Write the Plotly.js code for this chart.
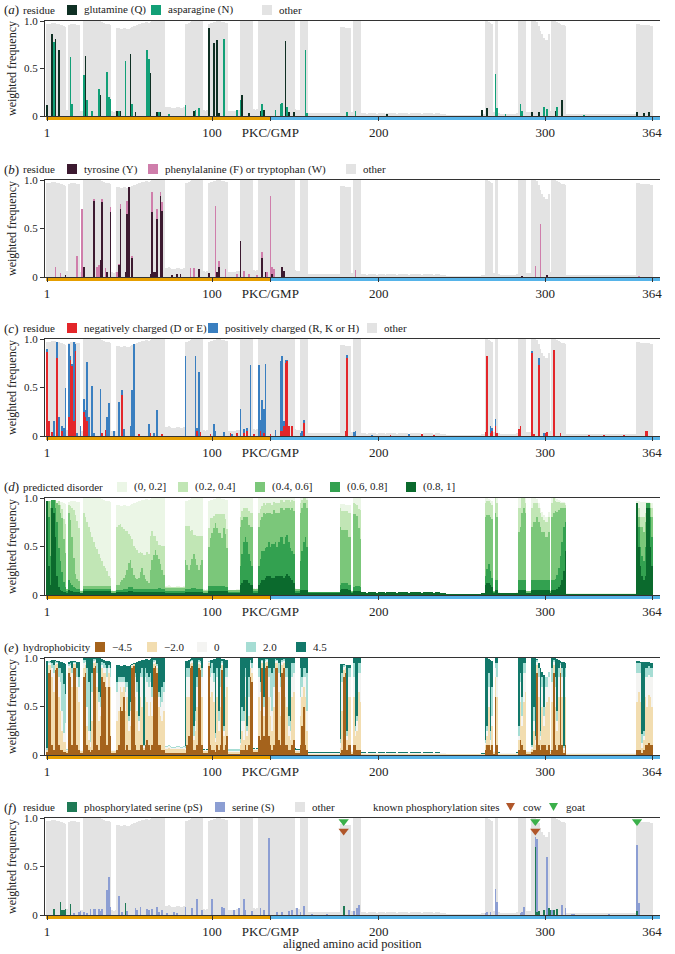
<!DOCTYPE html>
<html><head><meta charset="utf-8">
<script src="https://cdn.plot.ly/plotly-3.0.1.min.js"></script>
<style>html,body{margin:0;padding:0;background:#fff}#chart{width:675px;height:954px}</style>
</head><body><div id="chart"></div>
<script>
// ---------- DATA (aligned positions 1..364) ----------
const tickVals = [1, 100, 135, 200, 300, 364];
const tickText = ['1', '100', 'PKC/GMP', '200', '300', '364'];
const pkcGmpBoundary = 135;

// total weighted frequency (non-gap) per aligned position
const coverage = [
 .97,.97,.97,.98,.98,.98,.97,.97,.96,.96, .95,.94,.06,.96,.97,.97,.97,.97,.96,.96,
 .05,.05,1,1,1,1,1,1,1,1, 1,1,1,.99,.98,.97,.97,.97,.96,.05,
 .04,.05,.93,.93,.92,.92,.93,.93,.92,.92, .93,.94,.95,.95,.96,.97,.97,.98,.98,.99,
 .99,.98,.99,1,1,1,1,1,1,1, 1,.09,.09,.1,.09,.08,.08,.08,.09,.09,
 .08,.08,.09,.97,.97,.98,.99,1,1,1, 1,1,1,1,.06,.05,.06,.97,.98,.98,
 .99,.99,1,1,1,.99,.99,.98,.98,.05, .05,.05,.05,.05,.06,.06,1,1,1,1,
 1,1,1,1,.07,.06,.07,1,1,1, 1,1,1,1,1,1,1,1,1,1,
 1,1,1,1,1,1,1,1,1,.07, .06,.06,1,1,1,1,1,.03,.03,.03,
 .03,.03,.03,.03,.03,.03,.03,.03,.03,.03, .03,.03,.03,.03,.03,.03,.94,.94,.94,.93,
 .93,.93,.93,.04,1,1,1,1,1,.03, .03,.03,.025,.03,.03,.035,.03,.03,.025,.03,
 .03,.03,.03,.025,.03,.03,.035,.03,.03,.03, .025,.03,.03,.03,.035,.03,.03,.025,.03,.03,
 .03,.035,.03,.03,.03,.025,.03,.03,.03,.035, .03,.03,.025,.03,.03,.03,.025,.02,.02,.02,
 .015,.015,.015,.015,.015,.015,.015,.015,.015,.015, .015,.015,.015,.015,.015,.015,.015,.015,.015,.015,
 .015,.02,.02,1,1,.99,.98,.97,.04,1, 1,.03,.02,.02,.02,.02,.02,.02,.02,.02,
 .02,.02,.03,1,1,1,1,1,.04,.04, .04,1,1,1,.99,.95,.9,.86,.82,.8,
 .8,.86,.05,1,1,1,.99,.98,.97,.96, .96,.95,.02,.02,.02,.02,.02,.02,.02,.02,
 .02,.02,.02,.02,.02,.02,.02,.02,.02,.02, .02,.02,.02,.02,.02,.02,.02,.02,.02,.02,
 .02,.02,.02,.02,.02,.02,.02,.02,.02,.02, .02,.02,.02,.02,.97,.97,.96,.96,.96,.96,
 .96,.96,.95,.95
];

// (a) glutamine / asparagine
const glnPos = [1,4,6,8,24,33,43,45,51,54,63,67,69,89,98,101,103,104,118,122,129,131,144,146,149,205,262,265,292,296,306,310,355,359,362];
const glnVal = [.12,.86,.81,.69,.63,.22,.05,.05,.65,.04,.45,.04,.04,.05,.93,.77,.8,.03,.22,.03,.05,.06,.79,.04,.04,.02,.06,.08,.04,.04,.05,.17,.04,.03,.04];
const asnPos = [5,15,16,23,25,28,32,37,38,39,44,48,52,61,62,68,74,84,90,92,107,115,117,130,138,141,142,145,156,157,181,186,270,271,276,285,286,299,301,307,323];
const asnVal = [.78,.62,.13,.43,.17,.05,.28,.46,.2,.18,.05,.58,.13,.7,.6,.04,.02,.12,.06,.08,.81,.06,.17,.13,.06,.13,.14,.1,.7,.03,.04,.05,.44,.08,.02,.13,.05,.1,.07,.1,.01];

// (b) tyrosine / phenylalanine or tryptophan
const tyrPos = [12,23,29,33,34,37,39,44,45,48,49,50,52,63,64,65,66,67,69,70,76,79,81,92,98,103,104,117,130,132,136,142,143,286,301];
const tyrVal = [.02,.1,.78,.18,.77,.05,.67,.12,.7,.05,.65,.93,.2,.03,.67,.05,.05,.6,.83,.68,.02,.03,.03,.08,.04,.05,.1,.37,.2,.05,.03,.1,.06,.01,.02];
const phePos = [6,9,19,22,29,31,32,34,36,39,43,44,45,49,52,64,67,69,70,87,89,102,104,108,115,119,122,127,130,133,135,136,137,186,294,297,356];
const pheVal = [.1,.04,.22,.7,.02,.1,.12,.03,.09,.05,.05,.01,.05,.13,.02,.21,.1,.05,.09,.09,.09,.73,.07,.08,.03,.06,.03,.02,.06,.05,.83,.07,.08,.07,.11,.55,.01];

// (c) negatively / positively charged
const negPos = [1,2,4,7,10,14,15,16,17,18,23,24,25,34,36,46,56,63,70,91,93,99,111,115,119,121,125,129,131,135,141,142,143,144,145,146,148,155,180,181,207,226,233,264,265,267,268,270,271,284,285,292,293,296,300,301,305,309,326,335,347,360,361];
const negVal = [.87,.15,.04,.8,.05,.2,.78,.72,.15,.88,.25,.2,.15,.03,.06,.42,.02,.03,.02,.05,.04,.02,.03,.03,.03,.05,.02,.05,.03,.02,.05,.05,.1,.75,.77,.1,.1,.13,.05,.8,.01,.02,.01,.04,.82,.03,.05,.1,.03,.07,.1,.86,.02,.73,.03,.04,.89,.03,.01,.01,.01,.05,.05];
const posChPos = [1,5,7,8,10,11,12,14,15,16,17,18,19,21,23,24,25,26,28,29,33,37,38,41,44,46,47,51,52,53,62,65,67,84,90,91,92,101,102,107,112,117,119,121,123,128,129,130,131,132,138,141,142,143,144,145,153,154,155,181,185,186,196,218,267,268,270,292,296,299];
const posChVal = [.03,.15,.17,.2,.05,.08,.5,.75,.04,.02,.82,.07,.03,.1,.13,.07,.61,.2,.52,.03,.48,.2,.34,.05,.35,.05,.07,.1,.47,.95,.12,.03,.27,.82,.82,.03,.66,.12,.05,.04,.02,.28,.04,.03,.73,.73,.12,.37,.25,.74,.06,.72,.77,.05,.03,.01,.03,.05,.03,.04,.04,.05,.01,.02,.07,.03,.08,.02,.07,.03];

// (d) predicted disorder classes (0.8,1] (0.6,0.8] (0.4,0.6] (0.2,0.4]; (0,0.2] is the remainder
const dis81 = [
 .97,.3,.1,.9,.85,.6,.2,.08,.05,.04, .03,.03,.02,.05,.04,.04,.03,.03,.03,.03,
 .02,.02,.04,.04,.04,.04,.04,.04,.04,.04, .04,.04,.04,.04,.04,.04,.04,.04,.04,.02,
 .02,.02,.03,.03,.03,.03,.03,.03,.03,.04, .04,.04,.03,.03,.03,.03,.03,.03,.03,.03,
 .03,.03,.03,.03,.03,.03,.03,.03,.03,.03, .03,.02,.02,.02,.02,.02,.02,.02,.02,.02,
 .02,.02,.02,.03,.03,.03,.03,.03,.03,.03, .03,.03,.03,.03,.02,.02,.02,.04,.04,.04,
 .04,.04,.04,.04,.04,.04,.04,.04,.04,.02, .02,.02,.02,.02,.02,.02,.1,.12,.15,.15,
 .15,.12,.1,.1,.02,.02,.02,.1,.12,.15, .15,.18,.2,.2,.2,.18,.18,.2,.2,.2,
 .2,.2,.18,.2,.22,.2,.18,.15,.12,.02, .02,.02,.05,.05,.05,.05,.05,.02,.02,.02,
 .02,.02,.02,.02,.02,.02,.02,.02,.02,.02, .02,.02,.02,.02,.02,.02,.05,.06,.06,.06,
 .06,.05,.05,.02,.04,.04,.04,.04,.04,.03, .03,.03,.025,.03,.03,.03,.03,.03,.025,.03,
 .03,.03,.03,.025,.03,.03,.03,.03,.03,.03, .025,.03,.03,.03,.03,.03,.03,.025,.03,.03,
 .03,.03,.03,.03,.03,.025,.03,.03,.03,.03, .03,.03,.025,.03,.03,.03,.025,.02,.02,.02,
 .015,.015,.015,.015,.015,.015,.015,.015,.015,.015, .015,.015,.015,.015,.015,.015,.015,.015,.015,.015,
 .015,.02,.02,.1,.12,.12,.1,.08,.02,.05, .05,.02,.02,.02,.02,.02,.02,.02,.02,.02,
 .02,.02,.02,.05,.05,.05,.05,.05,.02,.02, .02,.05,.05,.05,.05,.05,.05,.05,.05,.05,
 .05,.05,.02,.05,.05,.05,.06,.08,.1,.15, .25,.45,.015,.015,.015,.015,.015,.015,.015,.015,
 .015,.015,.015,.015,.015,.015,.015,.015,.015,.015, .015,.015,.015,.015,.015,.015,.015,.015,.015,.015,
 .015,.015,.015,.015,.015,.015,.015,.015,.015,.015, .015,.015,.015,.015,.95,.5,.3,.2,.15,.2,
 .9,.9,.5,.3
];
const dis68 = [
 0,.5,.3,.08,.13,.3,.55,.4,.3,.2, .1,.05,.02,.1,.08,.06,.05,.04,.03,.03,
 0,0,.02,.02,.02,.02,.02,.02,.02,.02, .02,.02,.02,.02,.02,.02,.02,.02,.02,0,
 0,0,.02,.02,.02,.02,.03,.03,.03,.04, .04,.04,.03,.03,.03,.03,.03,.03,.03,.03,
 .03,.03,.03,.03,.03,.03,.03,.04,.04,.03, .03,.02,.02,.02,.02,.02,.02,.02,.02,.02,
 .02,.02,.02,.03,.03,.03,.03,.04,.04,.04, .03,.03,.03,.03,0,0,0,.05,.05,.05,
 .05,.05,.05,.05,.05,.05,.05,.04,.04,.01, .01,.01,.01,.01,.01,.01,.2,.3,.4,.45,
 .4,.3,.25,.2,.02,.02,.02,.2,.25,.3, .3,.3,.3,.35,.3,.35,.35,.35,.3,.35,
 .4,.4,.35,.4,.4,.35,.3,.3,.3,.02, .02,.02,.3,.4,.5,.55,.45,.01,.01,.01,
 .01,.01,.01,.01,.01,.01,.01,.01,.01,.01, .01,.01,.01,.01,.01,.01,.05,.06,.06,.06,
 .06,.05,.05,.01,.04,.05,.05,.05,.04,0, 0,0,0,0,0,0,0,0,0,0,
 0,0,0,0,0,0,0,0,0,0, 0,0,0,0,0,0,0,0,0,0,
 0,0,0,0,0,0,0,0,0,0, 0,0,0,0,0,0,0,0,0,0,
 0,0,0,0,0,0,0,0,0,0, 0,0,0,0,0,0,0,0,0,0,
 0,0,0,.1,.15,.2,.15,.1,.01,.1, .1,0,0,0,0,0,0,0,0,0,
 0,0,0,.1,.1,.1,.1,.1,0,0, 0,.1,.1,.1,.1,.1,.1,.1,.1,.1,
 .1,.1,0,.1,.1,.12,.15,.2,.3,.4, .45,.3,0,0,0,0,0,0,0,0,
 0,0,0,0,0,0,0,0,0,0, 0,0,0,0,0,0,0,0,0,0,
 0,0,0,0,0,0,0,0,0,0, 0,0,0,0,0,.2,.2,.2,.2,.3,
 .05,.05,.3,.3
];
const dis46 = [
 0,.17,.5,0,0,.08,.2,.45,.5,.55, .45,.35,.02,.7,.65,.5,.3,.15,.1,.08,
 .02,.02,.03,.03,.03,.03,.03,.03,.03,.03, .03,.03,.03,.03,.03,.03,.03,.03,.03,.02,
 .02,.02,.05,.05,.08,.1,.12,.15,.2,.25, .28,.2,.15,.12,.1,.12,.18,.22,.15,.1,
 .08,.06,.2,.3,.35,.4,.35,.3,.25,.2, .15,.03,.03,.03,.03,.03,.03,.03,.03,.03,
 .03,.03,.03,.3,.25,.2,.25,.3,.35,.3, .25,.2,.25,.3,.02,.02,.02,.4,.5,.55,
 .6,.65,.6,.55,.55,.5,.6,.55,.4,.02, .02,.02,.02,.02,.02,.02,.4,.35,.25,.2,
 .25,.3,.35,.4,.02,.02,.02,.4,.4,.35, .4,.35,.35,.3,.35,.3,.35,.3,.35,.3,
 .3,.3,.35,.3,.28,.35,.4,.45,.45,.02, .02,.02,.5,.45,.4,.35,.4,0,0,0,
 0,0,0,0,0,0,0,0,0,0, 0,0,0,0,0,0,.6,.55,.55,.55,
 .55,.5,.5,.01,.75,.75,.72,.6,.5,0, 0,0,0,0,0,0,0,0,0,0,
 0,0,0,0,0,0,0,0,0,0, 0,0,0,0,0,0,0,0,0,0,
 0,0,0,0,0,0,0,0,0,0, 0,0,0,0,0,0,0,0,0,0,
 0,0,0,0,0,0,0,0,0,0, 0,0,0,0,0,0,0,0,0,0,
 0,0,0,.6,.55,.5,.55,.6,.01,.7, .65,0,0,0,0,0,0,0,0,0,
 0,0,0,.5,.55,.7,.75,.7,.02,.02, .02,.55,.6,.6,.65,.6,.55,.5,.5,.45,
 .45,.5,.02,.65,.7,.7,.65,.6,.5,.35, .2,.15,0,0,0,0,0,0,0,0,
 0,0,0,0,0,0,0,0,0,0, 0,0,0,0,0,0,0,0,0,0,
 0,0,0,0,0,0,0,0,0,0, 0,0,0,0,0,.1,.2,.3,.3,.25,
 0,0,.1,.2
];
const dis24 = [
 0,0,.07,0,0,0,0,.04,.08,.1, .2,.3,0,.08,.15,.3,.5,.6,.6,.55,
 0,0,.76,.71,.66,.61,.56,.51,.46,.41, .38,.33,.29,.26,.21,.19,.16,.11,.09,0,
 0,0,.6,.62,.6,.55,.5,.45,.4,.3, .25,.3,.3,.3,.3,.25,.2,.15,.2,.25,
 .3,.3,.35,.3,.2,.15,.15,.15,.2,.25, .3,.01,.01,.01,.01,.01,.01,.01,.01,.01,
 .01,.01,.01,.35,.4,.45,.35,.3,.2,.25, .3,.35,.3,.25,.01,.01,.01,.2,.2,.15,
 .12,.1,.15,.2,.2,.25,.15,.15,.2,0, 0,0,0,0,0,0,.1,.1,.1,.1,
 .1,.15,.15,.15,0,0,0,.15,.12,.12, .1,.1,.1,.1,.1,.1,.08,.1,.1,.1,
 .08,.08,.08,.08,.08,.08,.08,.08,.1,0, 0,0,.1,.08,.05,.05,.08,0,0,0,
 0,0,0,0,0,0,0,0,0,0, 0,0,0,0,0,0,.2,.2,.2,.2,
 .2,.25,.25,0,.12,.1,.12,.2,.3,0, 0,0,0,0,0,0,0,0,0,0,
 0,0,0,0,0,0,0,0,0,0, 0,0,0,0,0,0,0,0,0,0,
 0,0,0,0,0,0,0,0,0,0, 0,0,0,0,0,0,0,0,0,0,
 0,0,0,0,0,0,0,0,0,0, 0,0,0,0,0,0,0,0,0,0,
 0,0,0,.15,.15,.15,.15,.15,0,.15, .15,0,0,0,0,0,0,0,0,0,
 0,0,0,.25,.2,.15,.1,.1,0,0, 0,.2,.2,.2,.15,.15,.15,.15,.12,.15,
 .15,.15,0,.15,.15,.1,.1,.08,.05,.05, .05,.03,0,0,0,0,0,0,0,0,
 0,0,0,0,0,0,0,0,0,0, 0,0,0,0,0,0,0,0,0,0,
 0,0,0,0,0,0,0,0,0,0, 0,0,0,0,0,.1,.1,.1,.15,.1,
 0,0,.05,.1
];

// (e) hydrophobicity classes -4.5, -2.0, 0, 2.0; 4.5 is the remainder
const hydM45 = [
 .03,.85,.88,.1,.05,.88,.9,.1,.05,.05, .03,.03,.02,.85,.8,.1,.9,.9,.1,.05,
 .02,.02,.8,.85,.1,.05,.03,.05,.9,.92, .1,.05,.2,.8,.75,.7,.1,.7,.2,.02,
 .02,.02,.05,.1,.5,.45,.6,.05,.1,.05, .05,.9,.92,.1,.05,.05,.1,.1,.05,.1,
 .15,.1,.05,.1,.9,.92,.85,.1,.1,.05, .05,.02,.02,.02,.02,.02,.02,.02,.02,.02,
 .02,.02,.02,.02,.1,.2,.9,.92,.05,.05, .1,.9,.88,.1,.02,.02,.02,.92,.1,.05,
 .05,.03,.1,.05,.1,.88,.05,.1,.2,.01, .01,.01,.01,.01,.01,.01,.05,.05,.05,.1,
 .05,.1,.8,.75,.03,.03,.03,.2,.15,.9, .2,.9,.92,.2,.1,.05,.1,.9,.9,.15,
 .1,.85,.9,.1,.1,.05,.05,.1,.15,.02, .02,.02,.1,.3,.5,.1,.05,.005,.005,.005,
 .005,.005,.005,.005,.005,.005,.005,.005,.005,.005, .005,.005,.005,.005,.005,.005,.02,.05,.8,.85,
 .05,.1,.1,.01,.1,.1,.05,.05,.05,.005, .005,.005,.005,.005,.005,.005,.005,.005,.005,.005,
 .005,.005,.005,.005,.005,.005,.005,.005,.005,.005, .005,.005,.005,.005,.005,.005,.005,.005,.005,.005,
 .005,.005,.005,.005,.005,.005,.005,.005,.005,.005, .005,.005,.005,.005,.005,.005,.005,.005,.005,.005,
 .003,.003,.003,.003,.003,.003,.003,.003,.003,.003, .003,.003,.003,.003,.003,.003,.003,.003,.003,.003,
 .003,.003,.003,.05,.1,.1,.05,.1,.01,.6, .1,.005,.005,.005,.005,.005,.005,.005,.005,.005,
 .005,.005,.005,.05,.15,.1,.05,.05,.01,.01, .01,.03,.05,.05,.85,.1,.05,.1,.1,.1,
 .05,.1,.01,.05,.85,.1,.05,.1,.85,.1, .02,.1,.005,.005,.005,.005,.005,.005,.005,.005,
 .005,.005,.005,.005,.005,.005,.005,.005,.005,.005, .005,.005,.005,.005,.005,.005,.005,.005,.005,.005,
 .005,.005,.005,.005,.005,.005,.005,.005,.005,.005, .005,.005,.005,.005,.05,.05,.05,.02,.05,.1,
 .1,.12,.1,.1
];
const hydM20 = [
 .02,.08,.05,.7,.6,.05,.04,.5,.4,.2, .1,.1,.02,.05,.1,.6,.04,.04,.6,.5,
 .02,.02,.1,.08,.2,.1,.05,.3,.05,.04, .6,.3,.2,.1,.1,.15,.6,.15,.5,.02,
 .02,.02,.3,.35,.2,.2,.1,.4,.5,.2, .25,.02,.02,.5,.4,.2,.5,.4,.02,.5,
 .4,.3,.5,.3,.04,.03,.05,.4,.3,.3, .4,.04,.04,.05,.04,.04,.04,.04,.04,.04,
 .04,.04,.04,.03,.5,.4,.04,.03,.1,.2, .4,.04,.05,.5,.02,.02,.02,.03,.5,.6,
 .5,.1,.5,.2,.4,.05,.15,.5,.5,.02, .02,.02,.02,.02,.02,.02,.05,.2,.1,.5,
 .15,.3,.1,.1,.02,.02,.02,.4,.3,.05, .2,.05,.04,.4,.3,.2,.4,.05,.05,.5,
 .3,.08,.05,.5,.4,.15,.1,.5,.5,.02, .02,.02,.3,.3,.2,.5,.2,.01,.01,.01,
 .01,.01,.01,.01,.01,.01,.01,.01,.01,.01, .01,.01,.01,.01,.01,.01,.05,.4,.08,.05,
 .1,.5,.5,.02,.5,.1,.2,.6,.5,.01, .01,.01,.01,.01,.01,.01,.01,.01,.01,.01,
 .01,.01,.01,.01,.01,.01,.01,.01,.01,.01, .01,.01,.01,.01,.01,.01,.01,.01,.01,.01,
 .01,.01,.01,.01,.01,.01,.01,.01,.01,.01, .01,.01,.01,.01,.01,.01,.01,.01,.01,.01,
 .005,.005,.005,.005,.005,.005,.005,.005,.005,.005, .005,.005,.005,.005,.005,.005,.005,.005,.005,.005,
 .005,.005,.005,.05,.1,.4,.05,.2,.02,.2, .5,.01,.01,.01,.01,.01,.01,.01,.01,.01,
 .01,.01,.01,.1,.4,.2,.5,.6,.02,.02, .02,.03,.2,.05,.08,.5,.1,.4,.2,.4,
 .5,.5,.02,.5,.08,.4,.2,.5,.05,.5, .03,.5,.008,.008,.008,.008,.008,.008,.008,.008,
 .008,.008,.008,.008,.008,.008,.008,.008,.008,.008, .008,.008,.008,.008,.008,.008,.008,.008,.008,.008,
 .008,.008,.008,.008,.008,.008,.008,.008,.008,.008, .008,.008,.008,.008,.5,.6,.5,.05,.1,.5,
 .4,.5,.5,.4
];
const hydZero = [
 0,.02,.02,.1,.2,.02,.01,.2,.3,.2, .1,.2,.01,.02,.03,.15,.01,.01,.1,.15,
 .01,.01,.05,.03,.2,.1,.05,.3,.02,.02, .15,.2,.1,.03,.05,.05,.1,.05,.1,.01,
 .01,.01,.3,.3,.05,.1,.05,.2,.1,.1, .15,.01,0,.2,.2,.1,.2,.3,.02,.2,
 .2,.3,.2,.2,.02,.02,.02,.1,.1,.2, .2,.02,.02,.02,.02,.01,.01,.01,.02,.02,
 .01,.01,.02,.02,.2,.2,.02,.02,.05,.1, .2,.02,.02,.2,.01,.01,.01,.01,.2,.2,
 .2,.05,.2,.1,.2,.02,.05,.2,.1,.01, .01,.01,.01,.01,.01,.01,.02,.1,.2,.2,
 .05,.2,.05,.05,.01,.01,.01,.2,.2,.02, .1,.02,.02,.2,.2,.2,.2,.02,.02,.2,
 .3,.03,.02,.2,.3,.1,.1,.2,.2,.01, .01,.01,.2,.1,.1,.2,.2,.005,.005,.005,
 .005,.005,.005,.005,.005,.005,.005,.005,.005,.005, .005,.005,.005,.005,.005,.005,.05,.3,.03,.02,
 .05,.2,.2,.01,.2,.05,.1,.2,.3,.005, .005,.005,.005,.005,.005,.005,.005,.005,.005,.005,
 .005,.005,.005,.005,.005,.005,.005,.005,.005,.005, .005,.005,.005,.005,.005,.005,.005,.005,.005,.005,
 .005,.005,.005,.005,.005,.005,.005,.005,.005,.005, .005,.005,.005,.005,.005,.005,.005,.005,.005,.005,
 .003,.003,.003,.003,.003,.003,.003,.003,.003,.003, .003,.003,.003,.003,.003,.003,.003,.003,.003,.003,
 .003,.003,.003,.02,.05,.2,.05,.1,.01,.1, .2,.003,.003,.003,.003,.003,.003,.003,.003,.003,
 .003,.003,.003,.05,.2,.1,.3,.2,.01,.01, .01,.02,.1,.05,.03,.2,.05,.2,.1,.2,
 .15,.2,.01,.2,.03,.2,.1,.2,.03,.2, .02,.2,.004,.004,.004,.004,.004,.004,.004,.004,
 .004,.004,.004,.004,.004,.004,.004,.004,.004,.004, .004,.004,.004,.004,.004,.004,.004,.004,.004,.004,
 .004,.004,.004,.004,.004,.004,.004,.004,.004,.004, .004,.004,.004,.004,.3,.2,.3,.05,.05,.2,
 .3,.2,.2,.3
];
const hydP20 = [
 .02,.02,.01,.05,.08,.02,.01,.1,.15,.4, .5,.3,.01,.02,.02,.05,.01,.01,.1,.1,
 0,0,.03,.02,.4,.5,.12,.2,.02,.01, .1,.1,.1,.03,.05,.03,.1,.03,.1,0,
 0,0,.1,.05,.05,.05,.05,.1,.05,.05, .1,0,0,.05,.1,.05,.05,.1,.01,.1,
 .1,.1,.1,.1,.02,.01,.02,.05,.1,.15, .1,.01,.01,.01,.01,.01,.01,.01,.01,.01,
 .01,.01,.01,.02,.1,.1,.01,.01,.1,.1, .1,.02,.02,.1,0,0,0,.01,.1,.1,
 .1,.05,.1,.1,.2,.02,.05,.1,.1,.02, .02,.02,.02,.02,.02,.02,.05,.15,.1,.1,
 .05,.2,.03,.05,0,0,0,.1,.1,.01, .1,.02,.01,.1,.3,.4,.2,.02,.01,.1,
 .1,.02,.02,.1,.1,.1,.1,.15,.1,0, 0,0,.3,.1,.1,.1,.4,.005,.005,.005,
 .005,.005,.005,.005,.005,.005,.005,.005,.005,.005, .005,.005,.005,.005,.005,.005,.05,.1,.02,.01,
 .05,.1,.1,0,.15,.05,.05,.1,.1,.005, .005,.005,.005,.005,.005,.005,.005,.005,.005,.005,
 .005,.005,.005,.005,.005,.005,.005,.005,.005,.005, .005,.005,.005,.005,.005,.005,.005,.005,.005,.005,
 .005,.005,.005,.005,.005,.005,.005,.005,.005,.005, .005,.005,.005,.005,.005,.005,.005,.005,.005,.005,
 .002,.002,.002,.002,.002,.002,.002,.002,.002,.002, .002,.002,.002,.002,.002,.002,.002,.002,.002,.002,
 .002,.002,.002,.03,.05,.15,.1,.3,0,.05, .15,.002,.002,.002,.002,.002,.002,.002,.002,.002,
 .002,.002,.002,.1,.1,.2,.1,.1,0,0, 0,.02,.15,.05,.02,.1,.05,.1,.1,.1,
 .1,.06,.01,.15,.02,.1,.1,.1,.02,.1, .02,.1,.002,.002,.002,.002,.002,.002,.002,.002,
 .002,.002,.002,.002,.002,.002,.002,.002,.002,.002, .002,.002,.002,.002,.002,.002,.002,.002,.002,.002,
 .002,.002,.002,.002,.002,.002,.002,.002,.002,.002, .002,.002,.002,.002,.1,.1,.1,.1,.05,.1,
 .1,.1,.1,.1
];

// (f) phosphorylated serine / serine, known sites
const pSerPos = [5,9,10,11,12,15,48,179,294,295,296,299,302,303,305,307,355];
const pSerVal = [.06,.13,.05,.05,.06,.11,.12,.09,.7,.03,.04,.05,.07,.05,.05,.06,.04];
const serPos = [17,20,21,23,25,27,29,30,32,33,34,37,38,39,44,46,49,54,55,57,61,62,64,67,68,70,73,77,79,84,88,91,94,100,106,107,113,116,119,120,124,129,131,134,139,142,146,148,151,153,155,160,169,182,185,187,188,264,265,267,270,271,285,286,287,294,295,301,304,310,312,316,317,338,355,356];
const serVal = [.02,.03,.04,.03,.02,.06,.06,.06,.06,.04,.06,.26,.39,.08,.2,.03,.04,.07,.05,.08,.06,.05,.06,.08,.03,.05,.02,.03,.02,.08,.07,.17,.05,.16,.08,.07,.05,.07,.17,.05,.04,.07,.05,.79,.03,.03,.04,.05,.07,.03,.09,.01,.01,.05,.04,.07,.1,.02,.03,.03,.27,.13,.02,.03,.08,.1,.75,.6,.05,.1,.07,.01,.01,.01,.68,.12];
const cowSites = [179, 294];
const goatSites = [179, 294, 355];

// ---------- BUILD ----------
const N = coverage.length;
const positions = coverage.map((_, i) => i + 1);
function dense(pos, val) { const a = new Array(N).fill(0); pos.forEach((p, k) => { a[p - 1] += val[k]; }); return a; }
function remainder(parts) { return coverage.map((c, i) => Math.max(0, +(c - parts.reduce((s, a) => s + (a[i] || 0), 0)).toFixed(4))); }

const FONT = 'Liberation Serif, Times New Roman, serif';
const W = 675, H = 954, ML = 45, MR = 15, PW = W - ML - MR;
const panelTop = [21, 180, 339, 498, 658, 818];
const panelBot = [116, 277, 436, 595, 755, 915];
const GREY = '#e3e3e3';

const traces = [];
function ax(k) { return k === 0 ? ['x', 'y'] : ['x' + (k + 1), 'y' + (k + 1)]; }
function bar(k, x, y, color, name) {
  const [xa, ya] = ax(k);
  traces.push({ type: 'bar', x, y, xaxis: xa, yaxis: ya, name, showlegend: false, hoverinfo: 'skip',
    marker: { color, line: { width: 0 } } });
}

// a
bar(0, glnPos, glnVal, '#0f3024', 'glutamine (Q)');
bar(0, asnPos, asnVal, '#12a077', 'asparagine (N)');
bar(0, positions, remainder([dense(glnPos, glnVal), dense(asnPos, asnVal)]), GREY, 'other');
// b
bar(1, tyrPos, tyrVal, '#3c1a30', 'tyrosine (Y)');
bar(1, phePos, pheVal, '#cf7eab', 'phenylalanine (F) or tryptophan (W)');
bar(1, positions, remainder([dense(tyrPos, tyrVal), dense(phePos, pheVal)]), GREY, 'other');
// c
bar(2, negPos, negVal, '#e3262a', 'negatively charged (D or E)');
bar(2, posChPos, posChVal, '#3a7fc0', 'positively charged (R, K or H)');
bar(2, positions, remainder([dense(negPos, negVal), dense(posChPos, posChVal)]), GREY, 'other');
// d
const dCols = ['#0b6a2d', '#33a150', '#7bc77a', '#c1e6b5', '#ebf6e6'];
bar(3, positions, dis81, dCols[0], '(0.8, 1]');
bar(3, positions, dis68, dCols[1], '(0.6, 0.8]');
bar(3, positions, dis46, dCols[2], '(0.4, 0.6]');
bar(3, positions, dis24, dCols[3], '(0.2, 0.4]');
bar(3, positions, remainder([dis81, dis68, dis46, dis24]), dCols[4], '(0, 0.2]');
// e
const eCols = ['#a5631c', '#f2ddb0', '#f4f4f2', '#a6ddd4', '#12786a'];
bar(4, positions, hydM45, eCols[0], '−4.5');
bar(4, positions, hydM20, eCols[1], '−2.0');
bar(4, positions, hydZero, eCols[2], '0');
bar(4, positions, hydP20, eCols[3], '2.0');
bar(4, positions, remainder([hydM45, hydM20, hydZero, hydP20]), eCols[4], '4.5');
// f
bar(5, pSerPos, pSerVal, '#1f7a56', 'phosphorylated serine (pS)');
bar(5, serPos, serVal, '#8c9ed3', 'serine (S)');
bar(5, positions, remainder([dense(pSerPos, pSerVal), dense(serPos, serVal)]), GREY, 'other');
traces.push({ type: 'scatter', mode: 'markers', x: cowSites, y: cowSites.map(() => 0.865), xaxis: 'x6', yaxis: 'y6',
  marker: { symbol: 'triangle-down', size: 9, color: '#b0562a' }, showlegend: false, hoverinfo: 'skip', cliponaxis: false });
traces.push({ type: 'scatter', mode: 'markers', x: goatSites, y: goatSites.map(() => 0.965), xaxis: 'x6', yaxis: 'y6',
  marker: { symbol: 'triangle-down', size: 9, color: '#3bb04a' }, showlegend: false, hoverinfo: 'skip', cliponaxis: false });

const layout = {
  width: W, height: H, margin: { l: ML, r: MR, t: 0, b: 0 },
  paper_bgcolor: '#fff', plot_bgcolor: '#fff',
  barmode: 'stack', bargap: 0, showlegend: false,
  font: { family: FONT, color: '#222', size: 12 },
  shapes: [], annotations: []
};

for (let k = 0; k < 6; k++) {
  const sfx = k === 0 ? '' : String(k + 1);
  const dom = [1 - panelBot[k] / H, 1 - panelTop[k] / H];
  layout['xaxis' + sfx] = {
    domain: [0, 1], range: [-0.2, 368.8], anchor: 'y' + sfx,
    tickmode: 'array', tickvals: tickVals, ticktext: tickText,
    ticks: 'outside', ticklen: 4, tickcolor: '#333', tickwidth: 1,
    showline: true, linecolor: '#333', linewidth: 1, mirror: true,
    showgrid: false, zeroline: false, fixedrange: true,
    tickfont: { family: FONT, size: 13, color: '#222' }
  };
  layout['yaxis' + sfx] = {
    domain: dom, range: [0, 1], anchor: 'x' + sfx,
    tickmode: 'array', tickvals: [0, 0.5, 1], ticktext: ['0', '0.5', '1.0'],
    ticks: 'outside', ticklen: 4, tickcolor: '#333',
    showline: true, linecolor: '#333', linewidth: 1,
    showgrid: false, zeroline: false, fixedrange: true,
    tickfont: { family: FONT, size: 11, color: '#222' },
    title: { text: 'weighted frequency', font: { family: FONT, size: 12, color: '#222' }, standoff: 4 }
  };
  // PKC / GMP band under the axis
  const yb0 = 1 - (panelBot[k] + 4) / H, yb1 = 1 - (panelBot[k] + 0.5) / H;
  layout.shapes.push({ type: 'rect', xref: 'x' + sfx, yref: 'paper', x0: 0.5, x1: pkcGmpBoundary, y0: yb0, y1: yb1, fillcolor: '#e69f00', line: { width: 0 }, layer: 'below' });
  layout.shapes.push({ type: 'rect', xref: 'x' + sfx, yref: 'paper', x0: pkcGmpBoundary, x1: 368.8, y0: yb0, y1: yb1, fillcolor: '#56b4e9', line: { width: 0 }, layer: 'below' });
}

// legend rows (text + swatches)
const px2x = px => (px - ML) / PW;
const py2y = py => 1 - py / H;
function txt(px, py, text, size, anchor) {
  layout.annotations.push({ xref: 'paper', yref: 'paper', x: px2x(px), y: py2y(py), xanchor: anchor || 'left', yanchor: 'middle',
    text, showarrow: false, font: { family: FONT, size: size || 11, color: '#222' } });
}
function sq(px, py, color) {
  layout.shapes.push({ type: 'rect', xref: 'paper', yref: 'paper', x0: px2x(px), x1: px2x(px + 10), y0: py2y(py + 5), y1: py2y(py - 5),
    fillcolor: color, line: { width: 0 } });
}
function tri(px, py, color) {
  const x0 = px2x(px), x1 = px2x(px + 9), xm = px2x(px + 4.5), yt = py2y(py - 4), yb = py2y(py + 4);
  layout.shapes.push({ type: 'path', xref: 'paper', yref: 'paper', path: `M ${x0} ${yt} L ${x1} ${yt} L ${xm} ${yb} Z`, fillcolor: color, line: { width: 0 } });
}
const legendItems = [
  { label: '(<i>a</i>)', head: 'residue', items: [[67, '#0f3024', 82, 'glutamine (Q)'], [151, '#12a077', 166, 'asparagine (N)'], [262, GREY, 277, 'other']] },
  { label: '(<i>b</i>)', head: 'residue', items: [[67, '#3c1a30', 82, 'tyrosine (Y)'], [148, '#cf7eab', 163, 'phenylalanine (F) or tryptophan (W)'], [346, GREY, 361, 'other']] },
  { label: '(<i>c</i>)', head: 'residue', items: [[67, '#e3262a', 82, 'negatively charged (D or E)'], [208, '#3a7fc0', 223, 'positively charged (R, K or H)'], [367, GREY, 382, 'other']] },
  { label: '(<i>d</i>)', head: 'predicted disorder', items: [[117, dCols[4], 132, '(0, 0.2]'], [178, dCols[3], 193, '(0.2, 0.4]'], [255, dCols[2], 270, '(0.4, 0.6]'], [330, dCols[1], 345, '(0.6, 0.8]'], [406, dCols[0], 421, '(0.8, 1]']] },
  { label: '(<i>e</i>)', head: 'hydrophobicity', items: [[95, eCols[0], 110, '−4.5'], [147, eCols[1], 162, '−2.0'], [197, eCols[2], 212, '0'], [246, eCols[3], 261, '2.0'], [296, eCols[4], 311, '4.5']] },
  { label: '(<i>f</i>)', head: 'residue', items: [[67, '#1f7a56', 82, 'phosphorylated serine (pS)'], [215, '#8c9ed3', 230, 'serine (S)'], [295, GREY, 310, 'other']] }
];
legendItems.forEach((L, k) => {
  const py = panelTop[k] - 11;
  txt(2, py, L.label, 13);
  txt(21, py, L.head, 11);
  L.items.forEach(([sx, c, tx, t]) => { sq(sx, py, c); txt(tx, py, t); });
});
// known phosphorylation sites legend (panel f)
{
  const py = panelTop[5] - 11;
  txt(371, py, 'known phosphorylation sites');
  tri(506, py, '#b0562a'); txt(521, py, 'cow');
  tri(549, py, '#3bb04a'); txt(564, py, 'goat');
}
// x-axis title under the last panel
txt((ML + W - MR) / 2, 944, 'aligned amino acid position', 12.5, 'center');

Plotly.newPlot('chart', traces, layout, { staticPlot: true, displayModeBar: false });
</script>
</body></html>
